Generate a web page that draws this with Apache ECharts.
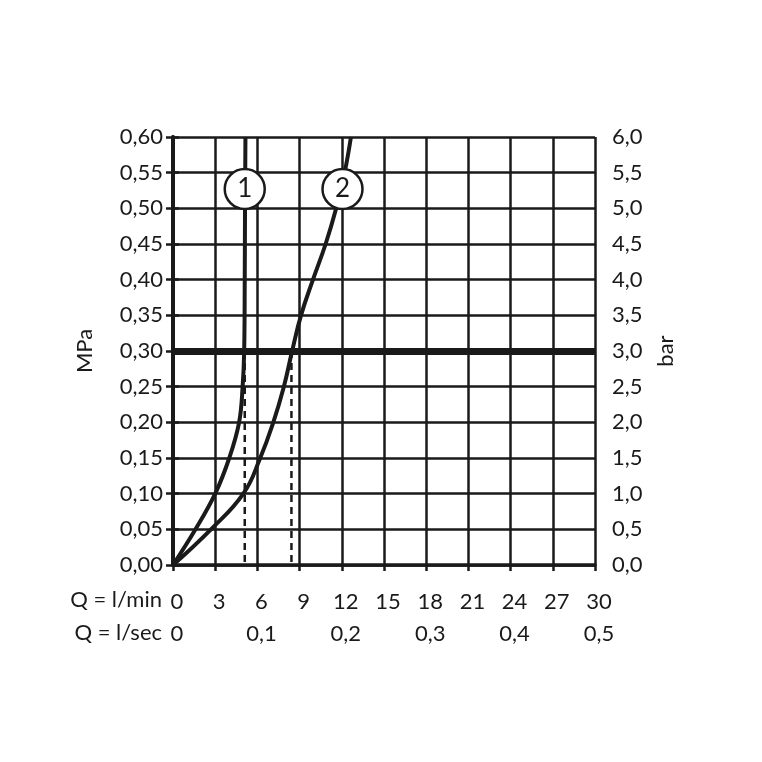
<!DOCTYPE html>
<html>
<head>
<meta charset="utf-8">
<title>Durchflussdiagramm</title>
<script src="https://cdn.jsdelivr.net/npm/echarts@6/dist/echarts.min.js"></script>
<style>
  html, body { margin: 0; padding: 0; background: #fff; }
  #chart { width: 762px; height: 762px; }
</style>
</head>
<body>
<div id="chart"></div>
<script>
// Kurve 1: [Q l/min, MPa]
var curve1 = [[0, 0], [1.6, 0.05], [3, 0.10], [4.0, 0.15], [4.7, 0.20], [4.95, 0.25], [5.06, 0.30], [5.1, 0.40], [5.12, 0.50], [5.15, 0.60]];
// Kurve 2
var curve2 = [[0, 0], [2.7, 0.05], [5.0, 0.10], [6.2, 0.15], [7.13, 0.20], [7.88, 0.25], [8.47, 0.30], [9.1, 0.35], [9.95, 0.40], [10.85, 0.45], [11.6, 0.50], [12.2, 0.55], [12.65, 0.60]];
// Betriebsdruck und Durchfluss bei 0,3 MPa
var workPressure = 0.30;
var dropLines = [[[5.1, 0.30], [5.1, 0]], [[8.42, 0.30], [8.42, 0]]];
// Kurvennummern
var curveTags = [{ name: '1', value: [5.1, 0.527] }, { name: '2', value: [12.05, 0.527] }];
var xTitles = ['Q = l/min', 'Q = l/sec'];

var font = 'Lato, "Noto Sans", sans-serif';
var black = '#1a1a1a';
var fs = 22;

function comma(v, d) {
    return v.toFixed(d).replace('.', ',');
}

var dom = document.getElementById('chart');
var myChart = echarts.init(dom);

var series = [{
    type: 'line',
    data: curve1,
    smooth: 0.4,
    symbol: 'none',
    lineStyle: { color: black, width: 4 },
    z: 5,
    markLine: {
        silent: true,
        symbol: 'none',
        label: { show: false },
        lineStyle: { color: black, width: 7, type: 'solid' },
        data: [{ yAxis: workPressure }]
    }
}, {
    type: 'line',
    data: curve2,
    smooth: 0.45,
    symbol: 'none',
    lineStyle: { color: black, width: 4 },
    z: 5
}];

dropLines.forEach(function (d) {
    series.push({
        type: 'line',
        data: d,
        symbol: 'none',
        lineStyle: { color: black, width: 2.5, type: [7, 5] },
        z: 4
    });
});

series.push({
    type: 'scatter',
    data: curveTags,
    symbol: 'circle',
    symbolSize: 40,
    itemStyle: { color: '#fff', borderColor: black, borderWidth: 2.5, opacity: 1 },
    label: {
        show: true,
        position: 'inside',
        formatter: '{b}',
        color: black,
        fontSize: 26,
        fontFamily: font
    },
    z: 10
});

var option = {
    animation: false,
    backgroundColor: '#fff',
    grid: { left: 173, right: 167, top: 137, bottom: 197, containLabel: false },
    xAxis: [{
        type: 'value', min: 0, max: 30, interval: 3, position: 'bottom',
        axisLine: { show: true, lineStyle: { color: black, width: 3.5 } },
        axisTick: { show: true, length: 6, lineStyle: { color: black, width: 2.5 } },
        splitLine: { show: true, lineStyle: { color: black, width: 2.5 } },
        axisLabel: { color: black, fontSize: fs, fontFamily: font, margin: 26, padding: [0, 0, 0, 8], formatter: function (v) { return String(v); } }
    }, {
        type: 'value', min: 0, max: 0.5, interval: 0.1, position: 'bottom',
        axisLine: { show: false }, axisTick: { show: false }, splitLine: { show: false },
        axisLabel: { color: black, fontSize: fs, fontFamily: font, margin: 58, padding: [0, 0, 0, 8], formatter: function (v) { return v === 0 ? '0' : comma(v, 1); } }
    }],
    yAxis: [{
        type: 'value', min: 0, max: 0.6, interval: 0.05, position: 'left',
        name: 'MPa', nameLocation: 'middle', nameGap: 77, nameRotate: 90,
        nameTextStyle: { color: black, fontSize: fs, fontFamily: font },
        axisLine: { show: true, lineStyle: { color: black, width: 4 } },
        axisTick: { show: true, length: 7, lineStyle: { color: black, width: 2.5 } },
        splitLine: { show: true, lineStyle: { color: black, width: 2.5 } },
        axisLabel: { color: black, fontSize: fs, fontFamily: font, margin: 10, formatter: function (v) { return comma(v, 2); } }
    }, {
        type: 'value', min: 0, max: 6, interval: 0.5, position: 'right',
        name: 'bar', nameLocation: 'middle', nameGap: 60, nameRotate: 90,
        nameTextStyle: { color: black, fontSize: fs, fontFamily: font },
        axisLine: { show: true, lineStyle: { color: black, width: 3.5 } },
        axisTick: { show: true, length: 6, lineStyle: { color: black, width: 2.5 } },
        splitLine: { show: false },
        axisLabel: { color: black, fontSize: fs, fontFamily: font, margin: 17, formatter: function (v) { return comma(v, 1); } }
    }],
    graphic: [{
        type: 'text', right: 762 - 162, top: 589,
        style: { text: xTitles[0], fill: black, fontSize: fs, fontFamily: font, textAlign: 'right' }
    }, {
        type: 'text', right: 762 - 162, top: 622,
        style: { text: xTitles[1], fill: black, fontSize: fs, fontFamily: font, textAlign: 'right' }
    }],
    series: series
};

myChart.setOption(option, true);
window.onresize = myChart.resize;
</script>
</body>
</html>
